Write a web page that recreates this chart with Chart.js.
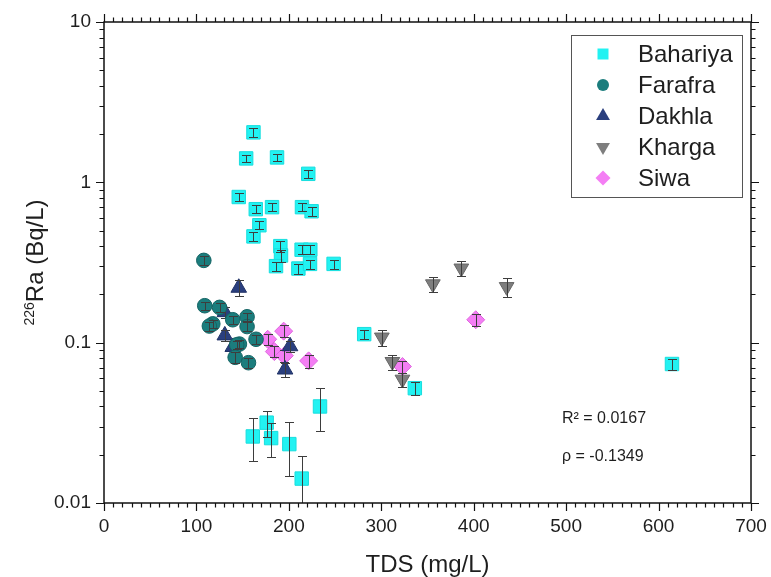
<!DOCTYPE html>
<html>
<head>
<meta charset="utf-8">
<script src="https://cdn.jsdelivr.net/npm/chart.js@4.4.1/dist/chart.umd.min.js"></script>
<style>
  html, body { margin: 0; padding: 0; background: #fff; }
  #wrap { width: 771px; height: 577px; }
</style>
</head>
<body>
<div id="wrap"><canvas id="grafico" width="771" height="577"></canvas></div>
<script>
// TDS (mg/L), 226Ra (Bq/L) and its uncertainty for each oasis
const bahariyaTds = [161.7, 153.8, 187.2, 221, 145.8, 164.2, 181.8, 214.2, 224.6, 168.1, 161.7, 190.8, 191.5, 213.8, 223.2, 186.1, 210.3, 222.9, 248.4, 281.5, 336.3, 614.5, 161, 176, 180.8, 200.5, 213.9, 233.7];
const bahariyaRa = [2.05, 1.41, 1.43, 1.13, 0.81, 0.68, 0.70, 0.70, 0.66, 0.54, 0.46, 0.40, 0.35, 0.38, 0.38, 0.30, 0.29, 0.31, 0.31, 0.113, 0.052, 0.0736, 0.026, 0.0317, 0.0254, 0.0233, 0.0142, 0.040];
const bahariyaErr = [0.12, 0.08, 0.08, 0.07, 0.05, 0.04, 0.04, 0.04, 0.04, 0.03, 0.03, 0.03, 0.03, 0.025, 0.025, 0.02, 0.02, 0.02, 0.02, 0.007, 0.005, 0.006, 0.0078, 0.006, 0.006, 0.0085, 0.0054, 0.012];

const farafraTds = [108, 109, 125, 117.7, 114, 139.3, 154.8, 154.8, 164.5, 146.5, 143.6, 141.9, 156.3];
const farafraRa = [0.326, 0.17, 0.166, 0.131, 0.127, 0.139, 0.145, 0.126, 0.105, 0.098, 0.097, 0.081, 0.075];
const farafraErr = [0.02, 0.01, 0.01, 0.008, 0.008, 0.008, 0.009, 0.008, 0.007, 0.006, 0.006, 0.006, 0.005];

const dakhlaTds = [145.8, 130.7, 130.7, 139.3, 201.3, 195.9];
const dakhlaRa = [0.22, 0.155, 0.111, 0.094, 0.095, 0.068];
const dakhlaErr = [0.025, 0.012, 0.009, 0.008, 0.008, 0.007];

const khargaTds = [355.8, 386.6, 435.6, 300.6, 312, 322.9];
const khargaRa = [0.232, 0.291, 0.223, 0.108, 0.076, 0.059];
const khargaErr = [0.025, 0.03, 0.03, 0.012, 0.008, 0.006];

const siwaTds = [177.1, 194.4, 184.3, 195.1, 221.4, 322.9, 402.2];
const siwaRa = [0.105, 0.118, 0.088, 0.083, 0.077, 0.071, 0.139];
const siwaErr = [0.008, 0.01, 0.007, 0.007, 0.007, 0.006, 0.012];

const yTicks = [0.01, 0.1, 1, 10];
const xTicks = [0, 100, 200, 300, 400, 500, 600, 700];
const estadisticos = ['R\u00B2 = 0.0167', '\u03C1 = -0.1349'];

const fuente = '"Liberation Sans", Arial, sans-serif';
const tinta = '#1e1e1e';

// Estilo de cada serie
const series = [
  { label: 'Bahariya', tds: bahariyaTds, ra: bahariyaRa, err: bahariyaErr, fill: '#22f2f2', line: '#18dede', style: 'rect', radius: 9.5, rot: 0 },
  { label: 'Farafra', tds: farafraTds, ra: farafraRa, err: farafraErr, fill: '#1b7d7d', line: '#146464', style: 'circle', radius: 7.3, rot: 0 },
  { label: 'Dakhla', tds: dakhlaTds, ra: dakhlaRa, err: dakhlaErr, fill: '#2a3f7e', line: '#203266', style: 'triangle', radius: 9, rot: 0 },
  { label: 'Kharga', tds: khargaTds, ra: khargaRa, err: khargaErr, fill: '#7e7e7e', line: '#666666', style: 'triangle', radius: 8.5, rot: 180 },
  { label: 'Siwa', tds: siwaTds, ra: siwaRa, err: siwaErr, fill: '#f47ef4', line: '#de68de', style: 'rectRot', radius: 9, rot: 0 }
];

const datasets = series.map(s => ({
  label: s.label,
  data: s.tds.map((x, i) => ({ x, y: s.ra[i] })),
  errores: s.err,
  backgroundColor: s.fill,
  borderColor: s.line,
  pointStyle: s.style,
  pointRotation: s.rot,
  pointRadius: s.radius,
  pointHoverRadius: s.radius,
  pointBorderWidth: 1
}));

// Dibuja un marcador (para la leyenda)
const marcador = (ctx, s, x, y, r) => {
  ctx.beginPath();
  if (s.style === 'rect') {
    ctx.rect(x - r, y - r, 2 * r, 2 * r);
  } else if (s.style === 'circle') {
    ctx.arc(x, y, r, 0, Math.PI * 2);
  } else if (s.style === 'rectRot') {
    ctx.moveTo(x, y - r); ctx.lineTo(x + r, y); ctx.lineTo(x, y + r); ctx.lineTo(x - r, y);
  } else {
    const d = s.rot === 180 ? -1 : 1;
    const h = r * 0.866;
    ctx.moveTo(x, y - d * r); ctx.lineTo(x + h, y + d * r / 2); ctx.lineTo(x - h, y + d * r / 2);
  }
  ctx.closePath();
  ctx.fillStyle = s.fill;
  ctx.fill();
};

// Barras de error encima de los marcadores de cada serie
const barrasError = {
  id: 'barrasError',
  afterDatasetDraw(chart, args) {
    const ds = chart.data.datasets[args.index];
    const { ctx, chartArea: a, scales: { x, y } } = chart;
    ctx.save();
    ctx.beginPath();
    ctx.rect(a.left, a.top, a.right - a.left, a.bottom - a.top);
    ctx.clip();
    ctx.strokeStyle = '#3d3d3d';
    ctx.lineWidth = 1;
    ds.data.forEach((p, i) => {
      const e = ds.errores[i];
      const px = Math.round(x.getPixelForValue(p.x)) + 0.5;
      const hi = Math.round(y.getPixelForValue(p.y + e)) + 0.5;
      const lo = Math.round(y.getPixelForValue(Math.max(p.y - e, 0.001))) + 0.5;
      ctx.beginPath();
      ctx.moveTo(px, hi); ctx.lineTo(px, lo);
      ctx.moveTo(px - 4.5, hi); ctx.lineTo(px + 4.5, hi);
      ctx.moveTo(px - 4.5, lo); ctx.lineTo(px + 4.5, lo);
      ctx.stroke();
    });
    ctx.restore();
  }
};

// Marco, marcas de los ejes, título del eje Y, leyenda y estadísticos
const marco = {
  id: 'marco',
  afterDraw(chart) {
    const { ctx, chartArea: a, scales: { x, y } } = chart;
    ctx.save();

    ctx.strokeStyle = '#111';
    ctx.lineWidth = 1.5;
    ctx.strokeRect(a.left, a.top, a.right - a.left, a.bottom - a.top);

    ctx.lineWidth = 1.2;
    ctx.beginPath();
    for (let v = xTicks[0]; v <= xTicks[xTicks.length - 1]; v += 10) {
      const px = Math.round(x.getPixelForValue(v)) + 0.5;
      const len = v % 100 === 0 ? 8 : 4.5;
      ctx.moveTo(px, a.bottom); ctx.lineTo(px, a.bottom + len);
      ctx.moveTo(px, a.top); ctx.lineTo(px, a.top - len);
    }
    yTicks.forEach((d, j) => {
      const ks = j === yTicks.length - 1 ? [1] : [1, 2, 3, 4, 5, 6, 7, 8, 9];
      ks.forEach(k => {
        const py = Math.round(y.getPixelForValue(k * d)) + 0.5;
        const len = k === 1 ? 8 : 4.5;
        ctx.moveTo(a.left, py); ctx.lineTo(a.left - len, py);
        ctx.moveTo(a.right, py); ctx.lineTo(a.right + len, py);
      });
    });
    ctx.stroke();

    // título del eje Y con superíndice
    ctx.fillStyle = tinta;
    ctx.textBaseline = 'alphabetic';
    ctx.textAlign = 'left';
    ctx.save();
    ctx.translate(43, (a.top + a.bottom) / 2);
    ctx.rotate(-Math.PI / 2);
    ctx.font = '14px ' + fuente;
    const w1 = ctx.measureText('226').width;
    ctx.font = '24px ' + fuente;
    const w2 = ctx.measureText('Ra (Bq/L)').width;
    const sx = -(w1 + w2) / 2;
    ctx.font = '14px ' + fuente;
    ctx.fillText('226', sx, -9);
    ctx.font = '24px ' + fuente;
    ctx.fillText('Ra (Bq/L)', sx + w1, 0);
    ctx.restore();

    // leyenda
    const lx = a.right - 180, ly = a.top + 13;
    ctx.strokeStyle = '#555';
    ctx.lineWidth = 1;
    ctx.strokeRect(lx + 0.5, ly + 0.5, 171, 162);
    ctx.font = '24px ' + fuente;
    ctx.textBaseline = 'middle';
    const tamLeyenda = { rect: 5.5, circle: 6, triangle: 8, rectRot: 7.5 };
    series.forEach((s, i) => {
      const cy = ly + 19 + i * 31;
      marcador(ctx, s, lx + 32, cy, tamLeyenda[s.style]);
      ctx.fillStyle = tinta;
      ctx.fillText(s.label, lx + 67, cy + 1);
    });

    // estadísticos
    ctx.font = '16px ' + fuente;
    ctx.fillStyle = tinta;
    ctx.fillText(estadisticos[0], x.getPixelForValue(495.5), y.getPixelForValue(0.0334));
    ctx.fillText(estadisticos[1], x.getPixelForValue(495.5), y.getPixelForValue(0.0194));

    ctx.restore();
  }
};

new Chart(document.getElementById('grafico'), {
  type: 'scatter',
  data: { datasets },
  options: {
    responsive: false,
    animation: false,
    layout: { padding: { top: 22, right: 20, bottom: 0, left: 0 } },
    plugins: {
      legend: { display: false },
      tooltip: { enabled: false }
    },
    scales: {
      x: {
        type: 'linear',
        min: xTicks[0],
        max: xTicks[xTicks.length - 1],
        afterFit: s => { s.height = 74; s.paddingLeft = 0; s.paddingRight = 0; },
        afterBuildTicks: s => { s.ticks = xTicks.map(v => ({ value: v })); },
        grid: { display: false, drawTicks: false },
        border: { display: false },
        ticks: { font: { size: 19, family: fuente }, color: tinta, padding: 12, maxRotation: 0, autoSkip: false },
        title: { display: true, text: 'TDS (mg/L)', font: { size: 24, family: fuente }, color: tinta, padding: { top: 0, bottom: -3 } }
      },
      y: {
        type: 'logarithmic',
        min: yTicks[0],
        max: yTicks[yTicks.length - 1],
        afterFit: s => { s.width = 104; s.paddingTop = 0; s.paddingBottom = 0; },
        afterBuildTicks: s => { s.ticks = yTicks.map(v => ({ value: v })); },
        grid: { display: false, drawTicks: false },
        border: { display: false },
        ticks: { font: { size: 19, family: fuente }, color: tinta, padding: 13, autoSkip: false, callback: v => String(v) }
      }
    }
  },
  plugins: [barrasError, marco]
});
</script>
</body>
</html>
